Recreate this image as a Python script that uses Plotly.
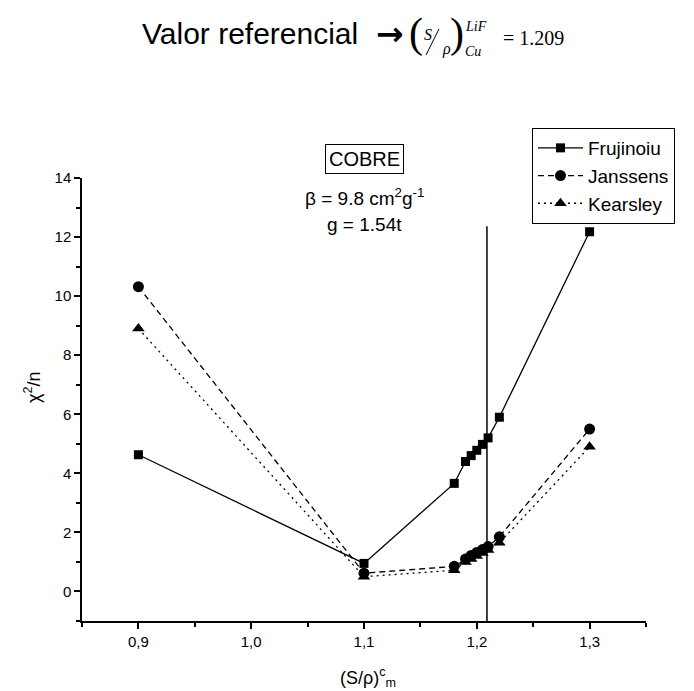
import plotly.graph_objects as go

# ---- data ----
x_fru = [0.90, 1.10, 1.18, 1.19, 1.195, 1.20, 1.205, 1.21, 1.22, 1.30]
y_fru = [4.63, 0.95, 3.66, 4.40, 4.60, 4.78, 4.98, 5.20, 5.90, 12.18]

x_jan = [0.90, 1.10, 1.18, 1.19, 1.195, 1.20, 1.205, 1.21, 1.22, 1.30]
y_jan = [10.32, 0.62, 0.85, 1.10, 1.22, 1.32, 1.42, 1.52, 1.85, 5.50]

x_kea = [0.90, 1.10, 1.18, 1.19, 1.195, 1.20, 1.205, 1.21, 1.22, 1.30]
y_kea = [8.90, 0.50, 0.72, 1.00, 1.10, 1.20, 1.30, 1.40, 1.65, 4.90]

ref_value = 1.209
ref_line_top = 12.37

x_tickvals = [0.9, 1.0, 1.1, 1.2, 1.3]
x_ticktext = ["0,9", "1,0", "1,1", "1,2", "1,3"]
y_tickvals = [0, 2, 4, 6, 8, 10, 12, 14]

SANS = "Liberation Sans, Arial, sans-serif"
SERIF = "Liberation Serif, Times New Roman, serif"

# target plot area in window pixels (page body has an 8px margin)
OFF = 8
L, R, T, B = 82, 646, 178, 621
W, H = 694 - OFF, 691 - OFF
def px(xp):
    return (xp - L) / (R - L)
def py(yp):
    return (B - yp) / (B - T)

fig = go.Figure()
fig.add_trace(go.Scatter(x=x_fru, y=y_fru, name="Frujinoiu", mode="lines+markers",
                         line=dict(color="black", width=1.3),
                         marker=dict(symbol="square", size=9, color="black")))
fig.add_trace(go.Scatter(x=x_jan, y=y_jan, name="Janssens", mode="lines+markers",
                         line=dict(color="black", width=1.3, dash="6px,4px"),
                         marker=dict(symbol="circle", size=11, color="black")))
fig.add_trace(go.Scatter(x=x_kea, y=y_kea, name="Kearsley", mode="lines+markers",
                         line=dict(color="black", width=1.3, dash="2px,4px"),
                         marker=dict(symbol="triangle-up", size=11, color="black")))

fig.add_shape(type="line", xref="x", yref="y", x0=ref_value, x1=ref_value,
              y0=-1, y1=ref_line_top, line=dict(color="black", width=1.5))
# slash of the S/rho fraction in the heading
fig.add_shape(type="line", xref="paper", yref="paper", x0=px(426), x1=px(439),
              y0=py(55), y1=py(29), line=dict(color="black", width=1))

ann = []
# heading
ann.append(dict(xref="paper", yref="paper", x=px(360), y=py(34), xanchor="right", yanchor="middle",
                text="Valor referencial", showarrow=False,
                font=dict(family=SANS, size=30, color="black")))
ann.append(dict(xref="paper", yref="paper", x=px(390), y=py(34), xanchor="center", yanchor="middle",
                text="<b>→</b>", showarrow=False,
                font=dict(family="DejaVu Sans, sans-serif", size=33, color="black")))
ann.append(dict(xref="paper", yref="paper", x=px(416), y=py(33), xanchor="center", yanchor="middle",
                text="(", showarrow=False,
                font=dict(family=SERIF, size=42, color="black")))
ann.append(dict(xref="paper", yref="paper", x=px(428), y=py(35), xanchor="center", yanchor="middle",
                text="<i>S</i>", showarrow=False,
                font=dict(family=SERIF, size=16, color="black")))
ann.append(dict(xref="paper", yref="paper", x=px(446), y=py(49), xanchor="center", yanchor="middle",
                text="<i>ρ</i>", showarrow=False,
                font=dict(family=SERIF, size=16, color="black")))
ann.append(dict(xref="paper", yref="paper", x=px(457), y=py(33), xanchor="center", yanchor="middle",
                text=")", showarrow=False,
                font=dict(family=SERIF, size=42, color="black")))
ann.append(dict(xref="paper", yref="paper", x=px(463), y=py(26), xanchor="left", yanchor="middle",
                text="<i>LiF</i>", showarrow=False,
                font=dict(family=SERIF, size=14, color="black")))
ann.append(dict(xref="paper", yref="paper", x=px(463), y=py(51), xanchor="left", yanchor="middle",
                text="<i>Cu</i>", showarrow=False,
                font=dict(family=SERIF, size=14, color="black")))
ann.append(dict(xref="paper", yref="paper", x=px(501), y=py(38), xanchor="left", yanchor="middle",
                text="= 1.209", showarrow=False,
                font=dict(family=SERIF, size=20, color="black")))
# in-plot labels
ann.append(dict(xref="x", yref="paper", x=1.1, y=py(159), xanchor="center", yanchor="middle",
                text="COBRE", showarrow=False, bordercolor="black", borderwidth=1, borderpad=3,
                bgcolor="white", font=dict(family=SANS, size=20, color="black")))
ann.append(dict(xref="x", yref="paper", x=1.1, y=py(197), xanchor="center", yanchor="middle",
                text="β = 9.8 cm<sup>2</sup>g<sup>-1</sup>", showarrow=False,
                font=dict(family=SANS, size=19, color="black")))
ann.append(dict(xref="x", yref="paper", x=1.1, y=py(224), xanchor="center", yanchor="middle",
                text="g = 1.54t", showarrow=False,
                font=dict(family=SANS, size=19, color="black")))
# axis titles
ann.append(dict(xref="paper", yref="paper", x=px(32), y=py(388), xanchor="center", yanchor="middle",
                text="χ<sup>2</sup>/n", textangle=-90, showarrow=False,
                font=dict(family=SANS, size=18, color="black")))
ann.append(dict(xref="paper", yref="paper", x=px(368), y=py(677), xanchor="center", yanchor="middle",
                text="(S/ρ)<sup>c</sup><sub>m</sub>", showarrow=False,
                font=dict(family=SANS, size=18, color="black")))

fig.update_layout(
    width=W, height=H,
    margin=dict(l=L - OFF, r=694 - R, t=T - OFF, b=691 - B, autoexpand=False),
    paper_bgcolor="white", plot_bgcolor="white",
    font=dict(family=SANS, size=15, color="black"),
    showlegend=True,
    legend=dict(x=px(532), y=py(128), xanchor="left", yanchor="top",
                bordercolor="black", borderwidth=1, bgcolor="white",
                font=dict(family=SANS, size=19, color="black"),
                tracegroupgap=0, itemwidth=45),
    annotations=ann,
)
fig.update_xaxes(range=[0.85, 1.35], tickvals=x_tickvals, ticktext=x_ticktext,
                 showgrid=False, zeroline=False, showline=True, linecolor="black", linewidth=1.5,
                 ticks="outside", ticklen=6, tickwidth=1.5, tickcolor="black",
                 tickfont=dict(family=SANS, size=15, color="black"),
                 minor=dict(tickvals=[0.85, 0.95, 1.05, 1.15, 1.25, 1.35], ticks="outside",
                            ticklen=4, tickwidth=1.5, tickcolor="black"))
fig.update_yaxes(range=[-1, 14], tickvals=y_tickvals,
                 showgrid=False, zeroline=False, showline=True, linecolor="black", linewidth=1.5,
                 ticks="outside", ticklen=6, tickwidth=1.5, tickcolor="black",
                 tickfont=dict(family=SANS, size=15, color="black"),
                 minor=dict(tickvals=[-1, 1, 3, 5, 7, 9, 11, 13], ticks="outside",
                            ticklen=4, tickwidth=1.5, tickcolor="black"))

fig.write_html("out.html")
